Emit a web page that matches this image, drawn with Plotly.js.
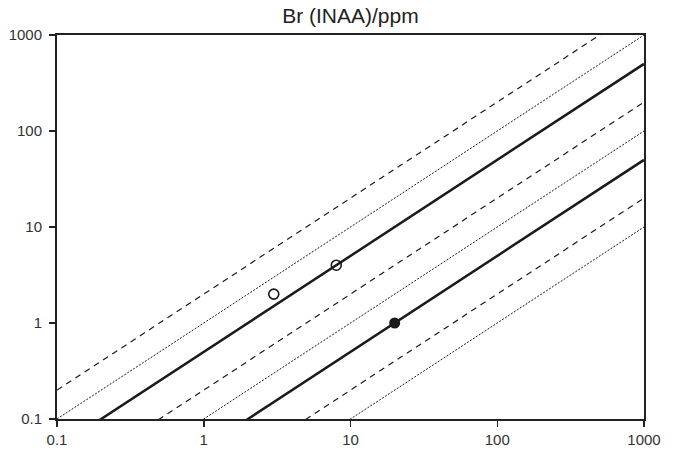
<!DOCTYPE html>
<html>
<head>
<meta charset="utf-8">
<script src="https://cdn.plot.ly/plotly-3.0.1.min.js"></script>
<style>html,body{margin:0;padding:0;background:#fff;}#chart{width:680px;height:456px;}</style>
</head>
<body>
<div id="chart"></div>
<script>
// Reference ratio lines y = ratio * x
const lineX = [0.1, 1000];
const solidRatios = [0.5, 0.05];
const dashedRatios = [2, 0.2, 0.02];
const dottedRatios = [1, 0.1, 0.01];

// Data points
const openX = [3, 8];
const openY = [2, 4];
const filledX = [20];
const filledY = [1];

const tickVals = [0.1, 1, 10, 100, 1000];
const tickText = ['0.1', '1', '10', '100', '1000'];

const traces = [];
function addLines(ratios, dash, width) {
  ratios.forEach(r => {
    traces.push({
      x: lineX, y: lineX.map(v => v * r), mode: 'lines', type: 'scatter',
      line: {color: '#1a1a1a', width: width, dash: dash}, hoverinfo: 'skip', showlegend: false
    });
  });
}
addLines(dottedRatios, '2px,1.5px', 1);
addLines(dashedRatios, '6px,5px', 1.2);
addLines(solidRatios, 'solid', 2.5);

traces.push({
  x: openX, y: openY, mode: 'markers', type: 'scatter', showlegend: false,
  marker: {symbol: 'circle-open', size: 10, color: '#1a1a1a', line: {width: 1.6, color: '#1a1a1a'}}
});
traces.push({
  x: filledX, y: filledY, mode: 'markers', type: 'scatter', showlegend: false,
  marker: {symbol: 'circle', size: 11, color: '#1a1a1a'}
});

const axisCommon = {
  type: 'log', range: [-1, 3], tickmode: 'array', tickvals: tickVals, ticktext: tickText,
  showgrid: false, zeroline: false, showline: true, mirror: true, linecolor: '#222', linewidth: 2,
  ticks: 'outside', ticklen: 6, tickwidth: 1.5, tickcolor: '#222',
  tickfont: {family: 'Liberation Sans, Arial, sans-serif', size: 15, color: '#333'}
};

const layout = {
  width: 680, height: 456,
  margin: {l: 57, r: 36, t: 35, b: 37},
  paper_bgcolor: '#fff', plot_bgcolor: '#fff',
  title: {text: 'Br (INAA)/ppm', x: 0.5154, xanchor: 'center', y: 0.966, yanchor: 'middle',
    font: {family: 'Liberation Sans, Arial, sans-serif', size: 21, color: '#222'}},
  xaxis: Object.assign({}, axisCommon),
  yaxis: Object.assign({}, axisCommon, {ticklabelstandoff: 4}),
  showlegend: false
};

Plotly.newPlot('chart', traces, layout, {staticPlot: true, displayModeBar: false});
</script>
</body>
</html>
